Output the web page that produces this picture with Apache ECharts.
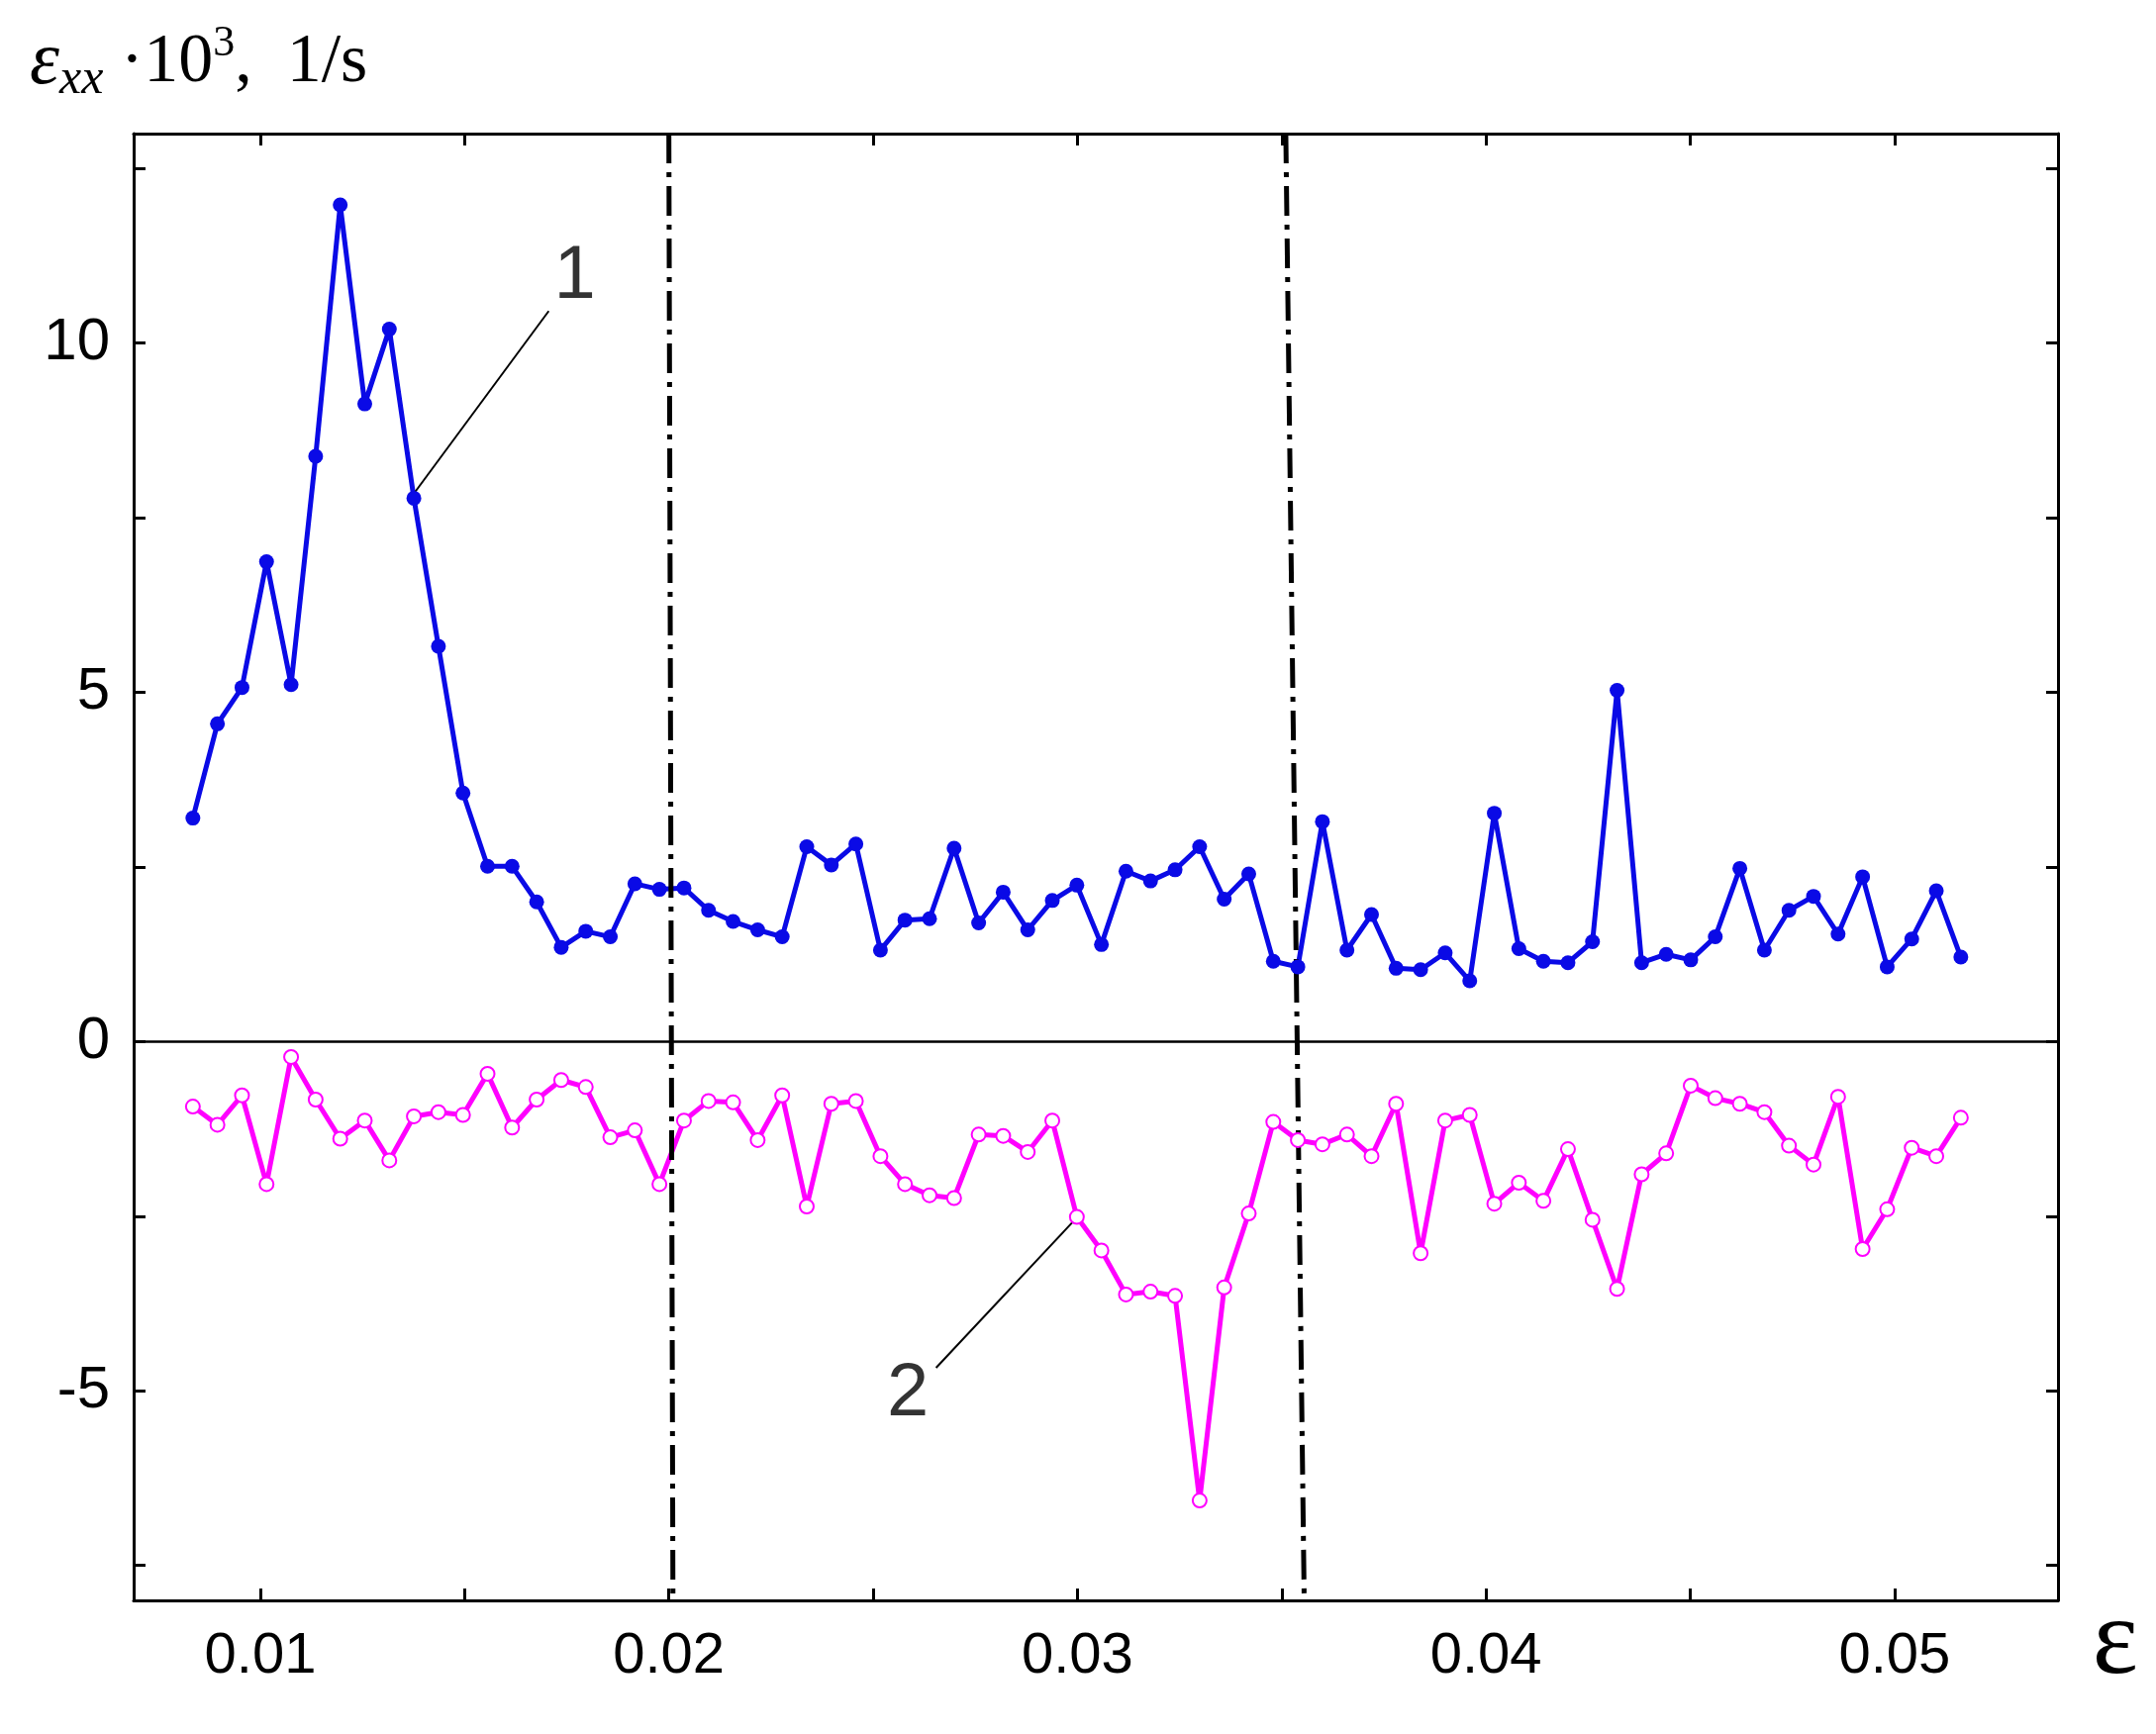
<!DOCTYPE html>
<html><head><meta charset="utf-8">
<script src="https://cdn.jsdelivr.net/npm/echarts@6/dist/echarts.min.js"></script>
<style>html,body{margin:0;background:#fff}#chart{width:2178px;height:1752px}</style>
</head><body><div id="chart"></div>
<script>
// strain sampled every ~0.000601, starting at 0.00835
var x0 = 0.00835, dx = 0.000601;
var rate1 = [3.2, 4.55, 5.07, 6.87, 5.11, 8.38, 11.98, 9.13, 10.2, 7.78, 5.66, 3.56, 2.51, 2.51, 2.0, 1.35, 1.58, 1.5, 2.26, 2.18,
	2.2, 1.88, 1.72, 1.6, 1.5, 2.79, 2.53, 2.83, 1.31, 1.74, 1.76, 2.77, 1.7, 2.14, 1.6, 2.02, 2.24, 1.39, 2.44, 2.3,
	2.46, 2.79, 2.04, 2.4, 1.15, 1.07, 3.15, 1.31, 1.82, 1.05, 1.03, 1.27, 0.87, 3.27, 1.33, 1.15, 1.13, 1.43, 5.03, 1.13,
	1.25, 1.17, 1.5, 2.48, 1.31, 1.88, 2.08, 1.54, 2.36, 1.07, 1.47, 2.16, 1.21];
var rate2 = [-0.93, -1.19, -0.77, -2.04, -0.22, -0.83, -1.39, -1.13, -1.7, -1.07, -1.01, -1.05, -0.46, -1.23, -0.83, -0.55, -0.65, -1.37, -1.27, -2.04,
	-1.13, -0.85, -0.87, -1.41, -0.77, -2.36, -0.89, -0.85, -1.64, -2.04, -2.2, -2.24, -1.33, -1.35, -1.58, -1.13, -2.51, -2.99, -3.62, -3.58,
	-3.64, -6.57, -3.52, -2.46, -1.15, -1.41, -1.47, -1.33, -1.64, -0.89, -3.03, -1.13, -1.05, -2.32, -2.02, -2.28, -1.54, -2.55, -3.54, -1.9,
	-1.6, -0.63, -0.81, -0.89, -1.01, -1.49, -1.76, -0.79, -2.97, -2.4, -1.52, -1.64, -1.09];
var xTicks = [0.01, 0.015, 0.02, 0.025, 0.03, 0.035, 0.04, 0.045, 0.05];
var xLabels = [0.01, 0.02, 0.03, 0.04, 0.05];
var yTicks = [-7.5, -5, -2.5, 0, 2.5, 5, 7.5, 10, 12.5];
var yLabels = [-5, 0, 5, 10];
var stageLines = [[[0.0200, 13], [0.0201, -8]], [[0.0351, 13], [0.03555, -8]]];
var leaders = [{name: '1', from: [0.01706, 10.46], to: [0.0137, 7.8], label: [0.0177, 10.95]},
	{name: '2', from: [0.02654, -4.67], to: [0.03, -2.51], label: [0.02585, -5.05]}];

function pairs(vals) {
	return vals.map(function(v, i) { return [x0 + i * dx, v]; });
}

var font = 'Liberation Sans, Arial, sans-serif';
function axisX(show) {
	return {
		type: 'value', min: 0.0069, max: 0.054, position: show ? 'bottom' : 'top',
		axisLine: {show: true, onZero: false, lineStyle: {color: '#000', width: 3}},
		axisTick: {show: true, inside: true, length: 12, customValues: xTicks, lineStyle: {color: '#000', width: 3}},
		axisLabel: {show: show, customValues: xLabels, margin: 28, fontSize: 58, color: '#000', fontFamily: font,
			formatter: function(v) { return v.toFixed(2); }},
		splitLine: {show: false}
	};
}
function axisY(show) {
	return {
		type: 'value', min: -8, max: 13, position: show ? 'left' : 'right',
		axisLine: {show: true, onZero: false, lineStyle: {color: '#000', width: 3}},
		axisTick: {show: true, inside: true, length: 12, customValues: yTicks, lineStyle: {color: '#000', width: 3}},
		axisLabel: {show: show, customValues: yLabels, margin: 24, fontSize: 60, color: '#000', fontFamily: font},
		splitLine: {show: false}
	};
}

var series = [
	{type: 'line', data: [[0.0069, 0], [0.054, 0]], symbol: 'none', lineStyle: {color: '#000', width: 2.5}, silent: true},
	{type: 'line', data: pairs(rate1), symbol: 'circle', symbolSize: 15,
		itemStyle: {color: '#0a0ae6'}, lineStyle: {color: '#0a0ae6', width: 5}},
	{type: 'line', data: pairs(rate2), symbol: 'circle', symbolSize: 14,
		itemStyle: {color: '#fff', borderColor: '#ff00ff', borderWidth: 2}, lineStyle: {color: '#ff00ff', width: 5}}
];
stageLines.forEach(function(l) {
	series.push({type: 'line', data: l, symbol: 'none', lineStyle: {color: '#000', width: 5, type: [30, 9, 5, 9]}});
});
leaders.forEach(function(l) {
	series.push({type: 'line', data: [l.from, l.to], symbol: 'none', lineStyle: {color: '#000', width: 2}});
	series.push({type: 'scatter', data: [l.label], symbolSize: 0,
		label: {show: true, formatter: l.name, fontSize: 76, color: '#000', fontFamily: font}});
});

var chart = echarts.init(document.getElementById('chart'));
chart.setOption({
	animation: false,
	grid: {left: 135, right: 99, top: 135, bottom: 135},
	xAxis: [axisX(true), axisX(false)],
	yAxis: [axisY(true), axisY(false)],
	series: series,
	graphic: [{
		type: 'text', left: 30, top: 22,
		style: {
			text: '{e|ε}{s|xx}{n| ·10}{p|3}{n|,  1/s}',
			rich: {
				e: {fontSize: 76, fontStyle: 'italic', fontFamily: 'Liberation Serif', fill: '#000'},
				s: {fontSize: 50, fontStyle: 'italic', fontFamily: 'Liberation Serif', fill: '#000', verticalAlign: 'bottom', padding: [34, 0, 0, 0]},
				n: {fontSize: 70, fontFamily: 'Liberation Serif', fill: '#000'},
				p: {fontSize: 44, fontFamily: 'Liberation Serif', fill: '#000', verticalAlign: 'top', padding: [0, 0, 34, 0]}
			}
		}
	}, {
		type: 'text', right: 18, bottom: 36,
		style: {text: 'ε', fontSize: 110, fontFamily: 'Liberation Serif', fill: '#000'}
	}]
});
</script></body></html>
